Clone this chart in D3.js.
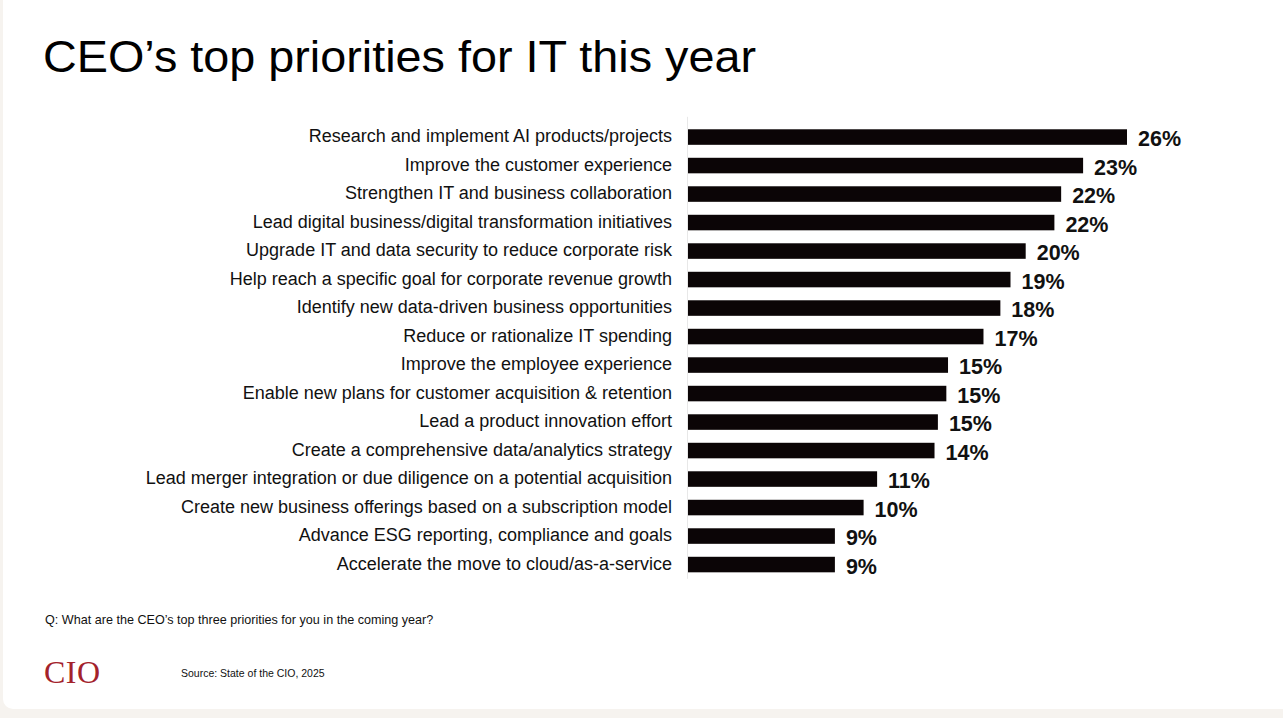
<!DOCTYPE html>
<html>
<head>
<meta charset="utf-8">
<script src="https://cdn.jsdelivr.net/npm/d3@7"></script>
<style>
  html, body { margin: 0; padding: 0; background: #f6f3ef; }
  svg { display: block; }
</style>
</head>
<body>
<div class="canvas"></div>
<script>
// priorities, top to bottom as shown
const categories = [
  'Research and implement AI products/projects',
  'Improve the customer experience',
  'Strengthen IT and business collaboration',
  'Lead digital business/digital transformation initiatives',
  'Upgrade IT and data security to reduce corporate risk',
  'Help reach a specific goal for corporate revenue growth',
  'Identify new data-driven business opportunities',
  'Reduce or rationalize IT spending',
  'Improve the employee experience',
  'Enable new plans for customer acquisition & retention',
  'Lead a product innovation effort',
  'Create a comprehensive data/analytics strategy',
  'Lead merger integration or due diligence on a potential acquisition',
  'Create new business offerings based on a subscription model',
  'Advance ESG reporting, compliance and goals',
  'Accelerate the move to cloud/as-a-service'
];

// bar lengths (share of respondents, %)
const values = [26.0, 23.4, 22.1, 21.7, 20.0, 19.1, 18.5, 17.5, 15.4, 15.3, 14.8, 14.6, 11.2, 10.4, 8.7, 8.7];

// the rounded labels printed next to each bar
const valueLabels = ['26%', '23%', '22%', '22%', '20%', '19%', '18%', '17%', '15%', '15%', '15%', '14%', '11%', '10%', '9%', '9%'];

const W = 1283, H = 718;
const plot = { left: 688, top: 122.8, bottom: 578.8 };

const svg = d3.select('.canvas')
  .append('svg')
  .attr('width', W)
  .attr('height', H)

// white slide panel with a rounded bottom-left corner
svg.append('rect')
  .attr('x', 3).attr('y', -20)
  .attr('width', W + 20).attr('height', 729)
  .attr('rx', 10)
  .attr('fill', '#fff')

svg.append('text')
  .attr('x', 43).attr('y', 72)
  .attr('font-family', 'Liberation Sans, Arial, sans-serif')
  .attr('font-size', 44)
  .attr('textLength', 713)
  .attr('lengthAdjust', 'spacingAndGlyphs')
  .attr('fill', '#000')
  .text('CEO\u2019s top priorities for IT this year')

const x = d3.scaleLinear()
  .domain([0, 26])
  .range([plot.left, plot.left + 439])

const y = d3.scaleBand()
  .domain(categories)
  .range([plot.top, plot.bottom])
  .paddingInner(0.455)
  .paddingOuter(0.2275)

const rows = categories.map((c, i) => ({ category: c, value: values[i], label: valueLabels[i] }));

// faint baseline to the left of the bars
svg.append('line')
  .attr('x1', plot.left - 0.5).attr('x2', plot.left - 0.5)
  .attr('y1', plot.top - 6).attr('y2', plot.bottom)
  .attr('stroke', '#e8e8e8')
  .attr('stroke-width', 1)

svg.append('g')
  .selectAll('rect')
  .data(rows)
  .enter()
  .append('rect')
  .attr('x', x(0))
  .attr('y', d => y(d.category))
  .attr('width', d => x(d.value) - x(0))
  .attr('height', y.bandwidth())
  .attr('fill', '#0b0506')

// category names, right aligned against the bars
const yAxis = d3.axisLeft(y).tickSize(0).tickPadding(16);
svg.append('g')
  .attr('transform', `translate(${plot.left}, 0)`)
  .call(yAxis)
  .call(g => g.select('.domain').remove())
  .selectAll('text')
  .attr('font-family', 'Liberation Sans, Arial, sans-serif')
  .attr('font-size', 18)
  .attr('fill', '#111')
  .attr('dy', '0.3em')

svg.append('g')
  .selectAll('text')
  .data(rows)
  .enter()
  .append('text')
  .attr('x', d => x(d.value) + 11)
  .attr('y', d => y(d.category) + y.bandwidth() / 2 + 9)
  .attr('font-family', 'Liberation Sans, Arial, sans-serif')
  .attr('font-weight', 'bold')
  .attr('font-size', 21.5)
  .attr('fill', '#111')
  .text(d => d.label)

svg.append('text')
  .attr('x', 45).attr('y', 624)
  .attr('font-family', 'Liberation Sans, Arial, sans-serif')
  .attr('font-size', 12.6)
  .attr('fill', '#111')
  .text('Q: What are the CEO\u2019s top three priorities for you in the coming year?')

svg.append('text')
  .attr('x', 44).attr('y', 683)
  .attr('font-family', 'Liberation Serif, Times New Roman, serif')
  .attr('font-size', 32)
  .attr('fill', '#a3222b')
  .attr('textLength', 56)
  .text('CIO')

svg.append('text')
  .attr('x', 181).attr('y', 677)
  .attr('font-family', 'Liberation Sans, Arial, sans-serif')
  .attr('font-size', 10.5)
  .attr('fill', '#111')
  .text('Source: State of the CIO, 2025')
</script>
</body>
</html>
